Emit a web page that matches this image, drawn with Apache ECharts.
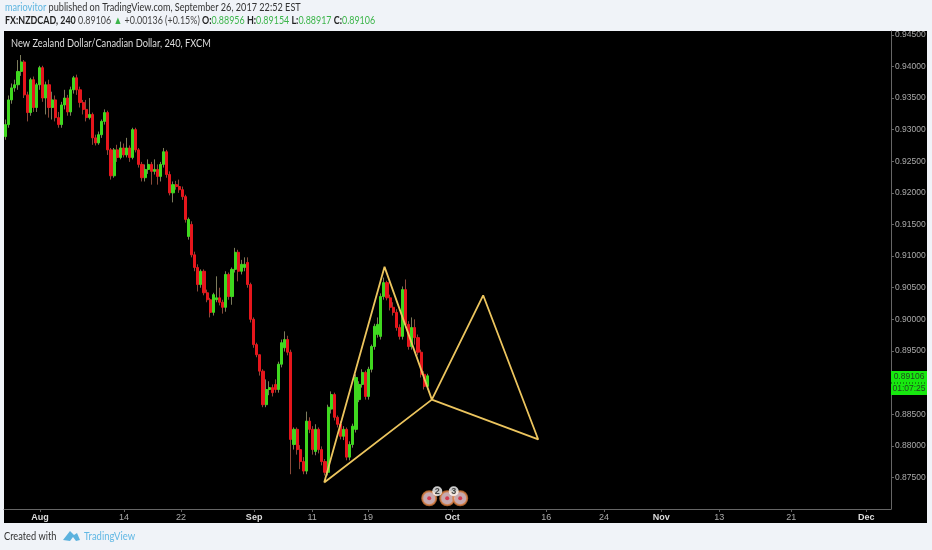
<!DOCTYPE html>
<html><head><meta charset="utf-8">
<style>html,body{margin:0;padding:0;background:#f0f3f8}#c{width:932px;height:550px}</style>
<script src="https://cdn.jsdelivr.net/npm/echarts@6/dist/echarts.min.js"></script>
</head><body><div id="c"></div>
<script>
const opens=[.9289,.9308,.9347,.9366,.9371,.9392,.9407,.9355,.9327,.9379,
.9335,.9371,.9398,.9350,.9371,.9335,.9347,.9319,.9308,.9339,
.9350,.9328,.9363,.9382,.9363,.9343,.9332,.9319,.9324,.9287,
.9279,.9292,.9313,.9327,.9268,.9227,.9268,.9256,.9271,.9260,
.9271,.9256,.9300,.9268,.9245,.9224,.9237,.9245,.9234,.9237,
.9226,.9245,.9265,.9229,.9200,.9213,.9210,.9205,.9194,.9131,
.9150,.9102,.9082,.9055,.9076,.9042,.9031,.9011,.9031,.9034,
.9027,.9019,.9071,.9036,.9079,.9106,.9076,.9082,.9090,.9055,
.9000,.8960,.8944,.8918,.8865,.8889,.8892,.8897,.8889,.8929,
.8955,.8968,.8948,.8802,.8826,.8794,.8775,.8760,.8839,.8826,
.8791,.8826,.8794,.8775,.8758,.8858,.8881,.8845,.8834,.8815,
.8826,.8782,.8802,.8826,.8873,.8897,.8916,.8878,.8921,.8957,
.8976,.8973,.9036,.9058,.9034,.9019,.9011,.8987,.8973,.9047,
.8992,.8957,.8987,.8971,.8948,.8913,.8894];
const closes=[.9308,.9347,.9366,.9371,.9392,.9407,.9355,.9327,.9379,.9335,
.9371,.9398,.9350,.9371,.9335,.9347,.9319,.9308,.9339,.9350,
.9328,.9363,.9382,.9363,.9343,.9332,.9319,.9324,.9287,.9279,
.9292,.9313,.9327,.9268,.9227,.9268,.9256,.9271,.9260,.9271,
.9256,.9300,.9268,.9245,.9224,.9237,.9245,.9234,.9237,.9226,
.9245,.9265,.9229,.9200,.9213,.9210,.9205,.9194,.9158,.9158,
.9102,.9082,.9055,.9076,.9042,.9031,.9011,.9039,.9034,.9027,
.9019,.9071,.9036,.9079,.9106,.9076,.9087,.9087,.9055,.9000,
.8960,.8944,.8918,.8865,.8889,.8892,.8884,.8889,.8929,.8963,
.8968,.8948,.8810,.8826,.8794,.8775,.8760,.8839,.8826,.8794,
.8826,.8794,.8775,.8758,.8861,.8881,.8845,.8834,.8815,.8826,
.8782,.8802,.8831,.8908,.8897,.8916,.8878,.8921,.8957,.8989,
.8992,.9036,.9058,.9034,.9019,.9011,.8987,.8973,.9047,.8992,
.8957,.8987,.8971,.8948,.8913,.8894,.89106];
const highs=[.9316,.9354,.9373,.9379,.9410,.9418,.9410,.9360,.9382,.9384,
.9374,.9401,.9401,.9376,.9379,.9360,.9354,.9328,.9344,.9363,
.9355,.9368,.9385,.9387,.9368,.9347,.9347,.9350,.9327,.9292,
.9297,.9316,.9332,.9330,.9271,.9271,.9276,.9281,.9278,.9287,
.9275,.9303,.9303,.9271,.9249,.9245,.9253,.9249,.9253,.9245,
.9249,.9271,.9268,.9234,.9218,.9219,.9221,.9210,.9197,.9161,
.9155,.9107,.9087,.9079,.9079,.9047,.9034,.9042,.9068,.9050,
.9031,.9076,.9074,.9082,.9113,.9110,.9094,.9098,.9098,.9058,
.9003,.8963,.8944,.8921,.8905,.8902,.8897,.8905,.8933,.8968,
.8981,.8974,.8952,.8829,.8829,.8801,.8782,.8854,.8845,.8831,
.8834,.8829,.8799,.8779,.8865,.8886,.8884,.8848,.8839,.8831,
.8829,.8807,.8835,.8913,.8902,.8921,.8919,.8925,.8960,.8993,
.9003,.9041,.9066,.9061,.9039,.9027,.9016,.8992,.9052,.9063,
.8997,.9003,.9000,.8976,.8952,.8918,.8914];
const lows=[.9284,.9303,.9341,.9360,.9363,.9385,.9350,.9313,.9322,.9328,
.9328,.9363,.9344,.9324,.9319,.9316,.9313,.9303,.9303,.9332,
.9322,.9322,.9357,.9355,.9335,.9324,.9313,.9316,.9276,.9275,
.9276,.9287,.9308,.9260,.9221,.9224,.9249,.9253,.9256,.9256,
.9249,.9253,.9264,.9240,.9218,.9218,.9230,.9213,.9229,.9213,
.9218,.9240,.9224,.9196,.9185,.9205,.9200,.9189,.9153,.9126,
.9098,.9076,.9044,.9050,.9038,.9027,.9003,.9006,.9027,.9022,
.9009,.9012,.9031,.9023,.9074,.9060,.9071,.9076,.9050,.8995,
.8955,.8940,.8911,.8861,.8861,.8880,.8878,.8884,.8884,.8924,
.8949,.8943,.8755,.8794,.8786,.8763,.8755,.8755,.8820,.8786,
.8785,.8788,.8769,.8753,.8753,.8851,.8840,.8829,.8810,.8809,
.8777,.8777,.8797,.8821,.8869,.8892,.8873,.8873,.8916,.8952,
.8971,.8968,.9031,.9030,.9014,.9006,.8982,.8968,.8968,.8987,
.8952,.8952,.8960,.8943,.8908,.8889,.8889];

const tickBars=[23.2,77.4,114.2,161.3,198.7,234.8,289,349.7,387,423.9,461.3,507.7,556.1];
const tickLabels=['Aug','14','22','Sep','11','19','Oct','16','24','Nov','13','21','Dec'];
const monthLabels=['Aug','Sep','Oct','Nov','Dec'];

const patternBars=[206.5,245.4,275.9,206.5,275.9,309,344.5,275.9];
const patternPrices=[.8742,.9083,.8873,.8742,.8873,.9038,.8810,.8873];

const eventBars=[274.2,285.8,294.2];
const eventPrices=[.8717,.8717,.8717];
const badgeBars=[279.4,290];
const badgePrices=[.8728,.8728];
const badgeTexts=['2','3'];

const pageFont='Lato,"Noto Sans",sans-serif';
const axisFont='"Liberation Sans",sans-serif';
const wickData=opens.map((o,i)=>[2*i+1,o,closes[i],lows[i],highs[i]]);
const bodyData=opens.map((o,i)=>[2*i+1,o,closes[i],Math.min(o,closes[i]),Math.max(o,closes[i])]);
const up='#3fd81f',down='#e6161c';

const chart=echarts.init(document.getElementById('c'),null,{renderer:'canvas'});
chart.setOption({
  animation:false,
  backgroundColor:'#f0f3f8',
  textStyle:{fontFamily:axisFont},
  grid:{left:4,right:41,top:31,bottom:41,containLabel:false},
  xAxis:{type:'value',min:0,max:572,splitLine:{show:false},
    axisLine:{show:true,onZero:false,lineStyle:{color:'#666'}},
    axisTick:{show:true,length:3,customValues:tickBars,lineStyle:{color:'#666'}},
    axisLabel:{show:true,customValues:tickBars,margin:4,fontSize:9,color:'#aaa',
      formatter:v=>{const t=tickLabels[tickBars.indexOf(v)];return monthLabels.includes(t)?'{m|'+t+'}':t;},
      rich:{m:{fontWeight:'bold',color:'#ddd',fontSize:9,fontFamily:axisFont}}}},
  yAxis:{type:'value',position:'right',min:.87,max:.9456,interval:.005,scale:true,splitLine:{show:false},
    axisLine:{show:true,onZero:false,lineStyle:{color:'#666'}},
    axisTick:{show:true,length:3,lineStyle:{color:'#666'}},
    axisLabel:{show:true,margin:4,fontSize:8.5,color:'#aaa',showMinLabel:false,showMaxLabel:false,formatter:v=>v.toFixed(5)}},
  series:[
    {type:'candlestick',name:'Wicks',barWidth:1,data:wickData,encode:{x:0,y:[1,2,3,4]},z:2,
      itemStyle:{color:'#7c7c5c',color0:'#8a4a3a',borderColor:'#7c7c5c',borderColor0:'#8a4a3a',borderWidth:1}},
    {type:'candlestick',name:'NZDCAD',barWidth:2.6,data:bodyData,encode:{x:0,y:[1,2,3,4]},z:3,
      itemStyle:{color:up,color0:down,borderColor:up,borderColor0:down,borderWidth:1}},
    {type:'line',name:'Pattern',data:patternBars.map((b,i)=>[b,patternPrices[i]]),symbol:'none',z:5,
      lineStyle:{color:'#ecc55e',width:1.8}},
    {type:'scatter',name:'Events',data:eventBars.map((b,i)=>[b,eventPrices[i]]),symbol:'circle',symbolSize:14,z:6,
      itemStyle:{color:'#f8d5dc',borderColor:'#d4793a',borderWidth:2}},
    {type:'scatter',name:'EventDots',data:eventBars.map((b,i)=>[b,eventPrices[i]]),symbol:'circle',symbolSize:4,z:7,
      itemStyle:{color:'#d8203a'}},
    {type:'scatter',name:'Badges',data:badgeBars.map((b,i)=>[b,badgePrices[i]]),symbol:'circle',symbolSize:10,z:8,
      itemStyle:{color:'#fff'},
      label:{show:true,position:'inside',color:'#222',fontSize:9,fontWeight:'bold',formatter:p=>badgeTexts[p.dataIndex]}}
  ],
  graphic:[
    {type:'rect',z:-10,silent:true,shape:{x:4,y:31,width:923,height:492},style:{fill:'#000'}},
    {type:'text',x:5,y:2,z:10,scaleX:.83,style:{font:'11px '+pageFont,
      text:'{a|mariovitor} {b|published on TradingView.com, September 26, 2017 22:52 EST}',
      rich:{a:{fill:'#5fb6e0',font:'11px '+pageFont},b:{fill:'#333',font:'11px '+pageFont}}}},
    {type:'text',x:5,y:15,z:10,scaleX:.81,style:{font:'11px '+pageFont,
      text:'{k|FX:NZDCAD, 240} {b|0.89106} {g|▲} {b|+0.00136 (+0.15%)} {k|O:}{g|0.88956} {k|H:}{g|0.89154} {k|L:}{g|0.88917} {k|C:}{g|0.89106}',
      rich:{k:{fill:'#222',font:'bold 11px '+pageFont},b:{fill:'#444',font:'11px '+pageFont},g:{fill:'#3cb54a',font:'11px '+pageFont}}}},
    {type:'text',x:11,y:38,z:10,scaleX:.845,style:{text:'New Zealand Dollar/Canadian Dollar, 240, FXCM',fill:'#ddd',font:'11px '+pageFont}},
    {type:'rect',z:10,shape:{x:891,y:371,width:36,height:24},style:{fill:'#17e80f'}},
    {type:'line',z:11,shape:{x1:891,y1:383,x2:927,y2:383},style:{stroke:'#0a3a0a',lineWidth:1,lineDash:[1,2]}},
    {type:'text',z:11,x:909,y:377,style:{text:'0.89106',fill:'#224422',font:'8.5px '+axisFont,align:'center',verticalAlign:'middle'}},
    {type:'text',z:11,x:909,y:389,style:{text:'01:07:25',fill:'#224422',font:'8.5px '+axisFont,align:'center',verticalAlign:'middle'}},
    {type:'text',x:4,y:531,z:10,scaleX:.84,style:{text:'Created with',fill:'#333',font:'11px '+pageFont}},
    {type:'polygon',z:10,shape:{points:[[63,540],[70,531],[74,535],[77,533],[80,540],[76,541],[73,537],[70,541]]},style:{fill:'#5cb2de'}},
    {type:'text',x:84,y:531,z:10,scaleX:.86,style:{text:'TradingView',fill:'#62b8e4',font:'11px '+pageFont}}
  ]
});
</script></body></html>
